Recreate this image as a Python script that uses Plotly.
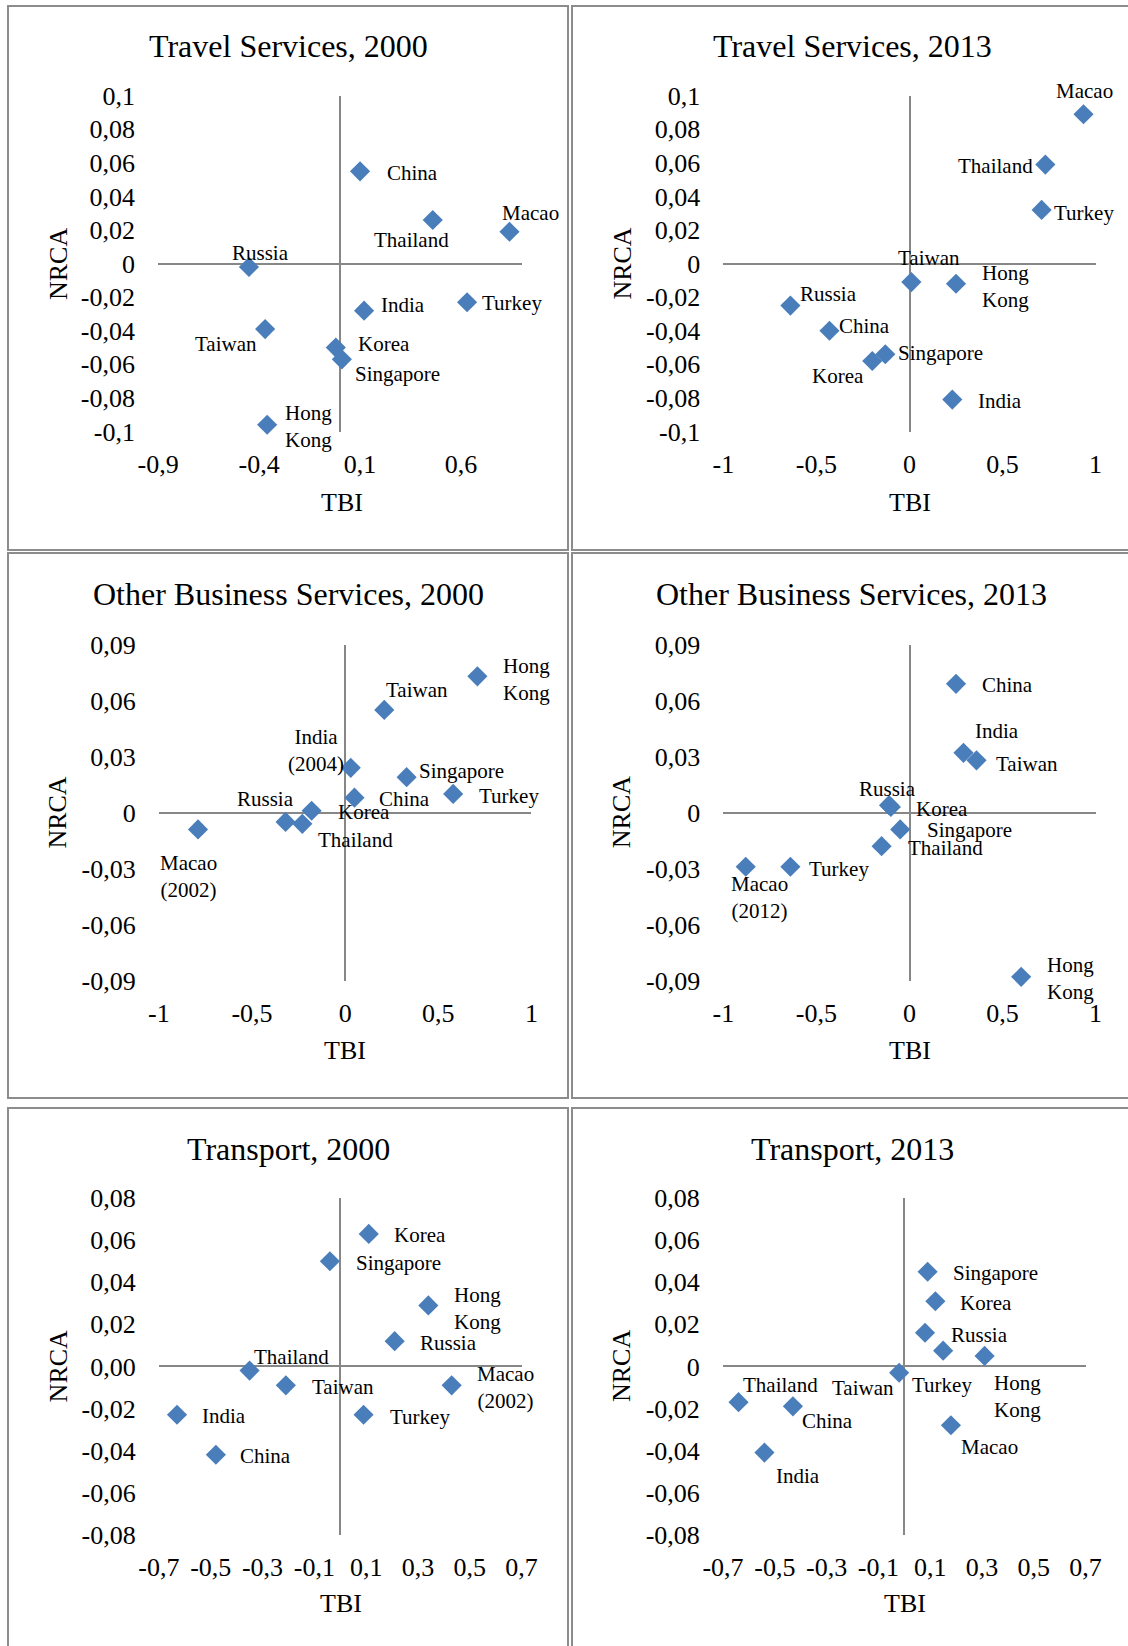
import plotly.graph_objects as go

# ---------------- data ----------------
# Travel Services, 2000
travel_2000_countries = ["China", "Thailand", "Macao", "Russia", "India", "Turkey",
                         "Taiwan", "Korea", "Singapore", "Hong<br>Kong"]
travel_2000_tbi = [0.10, 0.46, 0.84, -0.45, 0.12, 0.63, -0.37, -0.02, 0.01, -0.36]
travel_2000_nrca = [0.055, 0.026, 0.019, -0.002, -0.028, -0.023, -0.039, -0.050, -0.057, -0.096]

# Travel Services, 2013
travel_2013_countries = ["Macao", "Thailand", "Turkey", "Taiwan", "Hong<br>Kong", "Russia",
                         "China", "Singapore", "Korea", "India"]
travel_2013_tbi = [0.935, 0.73, 0.71, 0.01, 0.25, -0.64, -0.43, -0.13, -0.20, 0.23]
travel_2013_nrca = [0.089, 0.059, 0.032, -0.011, -0.012, -0.025, -0.040, -0.054, -0.058, -0.081]

# Other Business Services, 2000
obs_2000_countries = ["Hong<br>Kong", "Taiwan", "India<br>(2004)", "Singapore", "Turkey", "China",
                      "Korea", "Russia", "Thailand", "Macao<br>(2002)"]
obs_2000_tbi = [0.71, 0.21, 0.03, 0.33, 0.58, 0.05, -0.18, -0.32, -0.23, -0.79]
obs_2000_nrca = [0.073, 0.055, 0.024, 0.019, 0.010, 0.008, 0.001, -0.005, -0.006, -0.009]

# Other Business Services, 2013
obs_2013_countries = ["China", "India", "Taiwan", "Russia", "Korea", "Singapore", "Thailand",
                      "Turkey", "Macao<br>(2012)", "Hong<br>Kong"]
obs_2013_tbi = [0.25, 0.29, 0.36, -0.11, -0.10, -0.05, -0.15, -0.64, -0.88, 0.60]
obs_2013_nrca = [0.069, 0.032, 0.028, 0.004, 0.003, -0.009, -0.018, -0.029, -0.029, -0.088]

# Transport, 2000
transport_2000_countries = ["Korea", "Singapore", "Hong<br>Kong", "Russia", "Thailand", "Taiwan",
                            "Macao<br>(2002)", "Turkey", "India", "China"]
transport_2000_tbi = [0.11, -0.04, 0.34, 0.21, -0.35, -0.21, 0.43, 0.09, -0.63, -0.48]
transport_2000_nrca = [0.063, 0.050, 0.029, 0.012, -0.002, -0.009, -0.009, -0.023, -0.023, -0.042]

# Transport, 2013
transport_2013_countries = ["Singapore", "Korea", "Russia", "Turkey", "Hong<br>Kong", "Taiwan",
                            "Thailand", "China", "India", "Macao"]
transport_2013_tbi = [0.09, 0.12, 0.08, 0.15, 0.31, -0.02, -0.64, -0.43, -0.54, 0.18]
transport_2013_nrca = [0.045, 0.031, 0.016, 0.0075, 0.005, -0.003, -0.017, -0.019, -0.041, -0.028]

# axis ticks
tbi_ticks_travel_2000 = [-0.9, -0.4, 0.1, 0.6]
tbi_ticktext_travel_2000 = ["-0,9", "-0,4", "0,1", "0,6"]
tbi_ticks_unit = [-1, -0.5, 0, 0.5, 1]
tbi_ticktext_unit = ["-1", "-0,5", "0", "0,5", "1"]
tbi_ticks_transport = [-0.7, -0.5, -0.3, -0.1, 0.1, 0.3, 0.5, 0.7]
tbi_ticktext_transport = ["-0,7", "-0,5", "-0,3", "-0,1", "0,1", "0,3", "0,5", "0,7"]

nrca_ticks_travel = [0.1, 0.08, 0.06, 0.04, 0.02, 0, -0.02, -0.04, -0.06, -0.08, -0.1]
nrca_ticktext_travel = ["0,1", "0,08", "0,06", "0,04", "0,02", "0", "-0,02", "-0,04",
                        "-0,06", "-0,08", "-0,1"]
nrca_ticks_obs = [0.09, 0.06, 0.03, 0, -0.03, -0.06, -0.09]
nrca_ticktext_obs = ["0,09", "0,06", "0,03", "0", "-0,03", "-0,06", "-0,09"]
nrca_ticks_transport = [0.08, 0.06, 0.04, 0.02, 0, -0.02, -0.04, -0.06, -0.08]
nrca_ticktext_transport_2000 = ["0,08", "0,06", "0,04", "0,02", "0,00", "-0,02", "-0,04",
                                "-0,06", "-0,08"]
nrca_ticktext_transport_2013 = ["0,08", "0,06", "0,04", "0,02", "0", "-0,02", "-0,04",
                                "-0,06", "-0,08"]

# ---------------- layout settings ----------------
W, H = 1128, 1646
FONT = "Liberation Serif, Times New Roman, serif"
MARKER_COLOR = "#4A7EBB"
AXIS_COLOR = "#878787"
BORDER_COLOR = "#8C8C8C"

# label offsets from the marker centre, in pixels (dx right, dy down)
offsets = {
    "travel_2000": [(52, 2), (-21, 20), (21, -19), (12, -14), (39, -6), (45, 1),
                    (-39, 15), (48, -4), (56, 15), (41, 2)],
    "travel_2013": [(1, -23), (-50, 1), (42, 3), (18, -24), (49, 3), (38, -12),
                    (35, -5), (55, -1), (-34, 15), (48, 1)],
    "obs_2000": [(49, 3), (33, -20), (-35, -17), (55, -6), (56, 2), (50, 1),
                 (52, 1), (-20, -23), (53, 16), (-10, 47)],
    "obs_2013": [(51, 1), (34, -22), (50, 4), (-2, -16), (51, 2), (69, 1),
                 (64, 2), (49, 2), (14, 31), (49, 2)],
    "transport_2000": [(51, 1), (69, 2), (49, 3), (54, 2), (42, -14), (57, 2),
                       (54, 2), (56, 2), (47, 1), (50, 1)],
    "transport_2013": [(68, 1), (51, 2), (54, 2), (-1, 34), (33, 41), (-36, 15),
                       (42, -17), (35, 15), (34, 23), (39, 22)],
}

panels = [
    dict(key="travel_2000", title="Travel Services, 2000",
         names=travel_2000_countries, x=travel_2000_tbi, y=travel_2000_nrca,
         xrange=[-0.9, 0.9], xt=tbi_ticks_travel_2000, xtt=tbi_ticktext_travel_2000,
         yrange=[-0.1, 0.1], yt=nrca_ticks_travel, ytt=nrca_ticktext_travel,
         box=(8, 6, 568, 550), plot=(158.1, 95.8, 521.6, 431.5),
         title_xy=(288, 45.6), tbi_xy=(341.7, 503), nrca_xy=(58, 264)),
    dict(key="travel_2013", title="Travel Services, 2013",
         names=travel_2013_countries, x=travel_2013_tbi, y=travel_2013_nrca,
         xrange=[-1, 1], xt=tbi_ticks_unit, xtt=tbi_ticktext_unit,
         yrange=[-0.1, 0.1], yt=nrca_ticks_travel, ytt=nrca_ticktext_travel,
         box=(572, 6, 1140, 550), plot=(723.4, 95.8, 1095.6, 431.5),
         title_xy=(852, 45.6), tbi_xy=(910, 503), nrca_xy=(621.6, 264)),
    dict(key="obs_2000", title="Other Business Services, 2000",
         names=obs_2000_countries, x=obs_2000_tbi, y=obs_2000_nrca,
         xrange=[-1, 1], xt=tbi_ticks_unit, xtt=tbi_ticktext_unit,
         yrange=[-0.09, 0.09], yt=nrca_ticks_obs, ytt=nrca_ticktext_obs,
         box=(8, 553, 568, 1098), plot=(158.9, 644.6, 531.4, 980.6),
         title_xy=(288.6, 594), tbi_xy=(345, 1050.7), nrca_xy=(58, 812.6)),
    dict(key="obs_2013", title="Other Business Services, 2013",
         names=obs_2013_countries, x=obs_2013_tbi, y=obs_2013_nrca,
         xrange=[-1, 1], xt=tbi_ticks_unit, xtt=tbi_ticktext_unit,
         yrange=[-0.09, 0.09], yt=nrca_ticks_obs, ytt=nrca_ticktext_obs,
         box=(572, 553, 1140, 1098), plot=(723.4, 644.6, 1095.6, 980.6),
         title_xy=(851.8, 594), tbi_xy=(910, 1050.7), nrca_xy=(621.6, 812.6)),
    dict(key="transport_2000", title="Transport, 2000",
         names=transport_2000_countries, x=transport_2000_tbi, y=transport_2000_nrca,
         xrange=[-0.7, 0.7], xt=tbi_ticks_transport, xtt=tbi_ticktext_transport,
         yrange=[-0.08, 0.08], yt=nrca_ticks_transport, ytt=nrca_ticktext_transport_2000,
         box=(8, 1108, 568, 1660), plot=(158.9, 1198.2, 521.6, 1534.6),
         title_xy=(288, 1148.7), tbi_xy=(340.6, 1603), nrca_xy=(58, 1366.4)),
    dict(key="transport_2013", title="Transport, 2013",
         names=transport_2013_countries, x=transport_2013_tbi, y=transport_2013_nrca,
         xrange=[-0.7, 0.7], xt=tbi_ticks_transport, xtt=tbi_ticktext_transport,
         yrange=[-0.08, 0.08], yt=nrca_ticks_transport, ytt=nrca_ticktext_transport_2013,
         box=(572, 1108, 1140, 1660), plot=(723, 1198.2, 1085.6, 1534.6),
         title_xy=(852.5, 1148.7), tbi_xy=(905, 1603), nrca_xy=(621.6, 1366.4)),
]


def px_x(v):
    return v / W


def px_y(v):
    return 1 - v / H


fig = go.Figure()
annotations = []
shapes = []
layout_axes = {}

for i, p in enumerate(panels, start=1):
    xa = "x" if i == 1 else f"x{i}"
    ya = "y" if i == 1 else f"y{i}"
    xkey = "xaxis" if i == 1 else f"xaxis{i}"
    ykey = "yaxis" if i == 1 else f"yaxis{i}"

    fig.add_trace(go.Scatter(
        x=p["x"], y=p["y"], mode="markers", xaxis=xa, yaxis=ya,
        marker=dict(symbol="diamond", size=15.5, color=MARKER_COLOR, line=dict(width=0)),
        cliponaxis=False, showlegend=False, hoverinfo="skip",
    ))

    x0, y0, x1, y1 = p["plot"]
    common = dict(showgrid=False, zeroline=True, zerolinecolor=AXIS_COLOR, zerolinewidth=1.6,
                  showline=False, ticks="outside", tickcolor="rgba(0,0,0,0)",
                  tickmode="array", fixedrange=True, automargin=False,
                  tickfont=dict(family=FONT, size=26, color="black"))
    layout_axes[xkey] = dict(common, domain=[px_x(x0), px_x(x1)], range=p["xrange"],
                             tickvals=p["xt"], ticktext=p["xtt"], ticklen=9,
                             anchor=ya)
    layout_axes[ykey] = dict(common, domain=[px_y(y1), px_y(y0)], range=p["yrange"],
                             tickvals=p["yt"], ticktext=p["ytt"], ticklen=17,
                             anchor=xa)

    # data labels
    for name, xv, yv, (dx, dy) in zip(p["names"], p["x"], p["y"], offsets[p["key"]]):
        annotations.append(dict(
            x=xv, y=yv, xref=xa, yref=ya, text=name, showarrow=False,
            xanchor="center", yanchor="middle", xshift=dx, yshift=-dy,
            align="left" if name.startswith("Hong") else "center",
            font=dict(family=FONT, size=21, color="black"),
        ))

    # chart title and axis titles
    tx, ty = p["title_xy"]
    annotations.append(dict(x=px_x(tx), y=px_y(ty), xref="paper", yref="paper",
                            text=p["title"], showarrow=False, xanchor="center",
                            yanchor="middle",
                            font=dict(family=FONT, size=32, color="black")))
    bx, by = p["tbi_xy"]
    annotations.append(dict(x=px_x(bx), y=px_y(by), xref="paper", yref="paper",
                            text="TBI", showarrow=False, xanchor="center",
                            yanchor="middle",
                            font=dict(family=FONT, size=26, color="black")))
    nx, ny = p["nrca_xy"]
    annotations.append(dict(x=px_x(nx), y=px_y(ny), xref="paper", yref="paper",
                            text="NRCA", showarrow=False, textangle=-90,
                            xanchor="center", yanchor="middle",
                            font=dict(family=FONT, size=26, color="black")))

    # chart frame
    bx0, by0, bx1, by1 = p["box"]
    shapes.append(dict(type="rect", xref="paper", yref="paper",
                       x0=px_x(bx0), x1=px_x(bx1), y0=px_y(by1), y1=px_y(by0),
                       line=dict(color=BORDER_COLOR, width=2), fillcolor="rgba(0,0,0,0)",
                       layer="below"))

fig.update_layout(
    template="none",
    width=W, height=H,
    margin=dict(l=0, r=0, t=0, b=0, pad=0, autoexpand=False),
    paper_bgcolor="white", plot_bgcolor="white",
    showlegend=False,
    annotations=annotations, shapes=shapes,
    **layout_axes,
)

fig.write_html("out.html", config={"displayModeBar": False})
